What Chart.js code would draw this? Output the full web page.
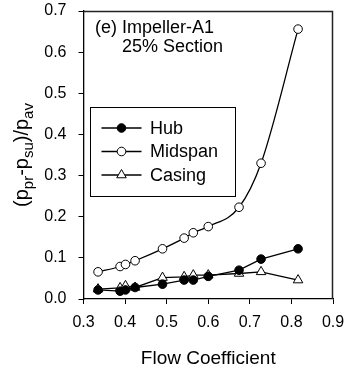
<!DOCTYPE html>
<html>
<head>
<meta charset="utf-8">
<script src="https://cdn.jsdelivr.net/npm/chart.js@4/dist/chart.umd.min.js"></script>
<style>
  body { margin: 0; background: #fff; }
</style>
</head>
<body>
<canvas id="myChart" width="345" height="370"></canvas>
<script>
// flow coefficient (x) - same points for all three curves
const flowCoef = [0.335, 0.388, 0.401, 0.424, 0.49, 0.542, 0.564, 0.60, 0.674, 0.727, 0.816];
const hub     = [0.022, 0.019, 0.022, 0.028, 0.036, 0.046, 0.046, 0.055, 0.070, 0.097, 0.122];
const midspan = [0.066, 0.079, 0.084, 0.093, 0.122, 0.148, 0.161, 0.176, 0.223, 0.330, 0.656];
const casing  = [0.024, 0.027, 0.032, 0.028, 0.052, 0.054, 0.058, 0.058, 0.062, 0.066, 0.046];
const seriesNames = ["Hub", "Midspan", "Casing"];
const xTicks = [0.3, 0.4, 0.5, 0.6, 0.7, 0.8, 0.9];
const yTicks = [0.0, 0.1, 0.2, 0.3, 0.4, 0.5, 0.6, 0.7];
const noteLines = ["(e) Impeller-A1", "25% Section"];

const FONT = "'Liberation Sans', Arial, Helvetica, sans-serif";

function pts(ys) {
  return flowCoef.map(function(x, i) { return { x: x, y: ys[i] }; });
}

// draw a marker like the ones in the chart
function drawMarker(ctx, ds, x, y) {
  ctx.save();
  ctx.lineWidth = ds.pointBorderWidth;
  ctx.strokeStyle = ds.pointBorderColor;
  ctx.fillStyle = ds.pointBackgroundColor;
  ctx.beginPath();
  if (ds.pointStyle === "triangle") {
    var r = ds.pointRadius;
    ctx.moveTo(x, y - r);
    ctx.lineTo(x + r * 0.866, y + r * 0.5);
    ctx.lineTo(x - r * 0.866, y + r * 0.5);
    ctx.closePath();
  } else {
    ctx.arc(x, y, ds.pointRadius, 0, Math.PI * 2);
  }
  ctx.fill();
  ctx.stroke();
  ctx.restore();
}

const extras = {
  id: "extras",
  afterDraw: function(chart) {
    const c = chart.ctx;
    const a = chart.chartArea;

    c.save();
    // top and right edges of the frame
    c.strokeStyle = "#222";
    c.lineWidth = 1.5;
    c.beginPath();
    c.moveTo(a.left, a.top + 0.5);
    c.lineTo(a.right - 0.5, a.top + 0.5);
    c.lineTo(a.right - 0.5, a.bottom);
    c.stroke();

    // note text
    c.fillStyle = "#000";
    c.font = "18px " + FONT;
    c.textBaseline = "middle";
    c.textAlign = "left";
    c.fillText(noteLines[0], 95, 28);
    c.fillText(noteLines[1], 122, 47);

    // legend box
    c.fillStyle = "#fff";
    c.fillRect(90.5, 107.5, 145, 89);
    c.strokeStyle = "#000";
    c.lineWidth = 1;
    c.strokeRect(90.5, 107.5, 145, 89);
    const rows = [128, 151.5, 175];
    chart.data.datasets.forEach(function(ds, i) {
      const y = rows[i];
      c.beginPath();
      c.lineWidth = ds.borderWidth;
      c.strokeStyle = ds.borderColor;
      c.moveTo(101.5, y);
      c.lineTo(141.5, y);
      c.stroke();
      drawMarker(c, ds, 121.5, y);
      c.fillStyle = "#000";
      c.font = "18px " + FONT;
      c.fillText(ds.label, 150, y + 1);
    });

    // y axis title with subscripts
    c.translate(28, 155);
    c.rotate(-Math.PI / 2);
    const parts = [["(p", 0], ["pr", 1], ["-p", 0], ["su", 1], [")/p", 0], ["av", 1]];
    const big = "20px " + FONT, small = "15px " + FONT;
    let total = 0;
    parts.forEach(function(p) {
      c.font = p[1] ? small : big;
      total += c.measureText(p[0]).width;
    });
    let x = -total / 2;
    c.textBaseline = "alphabetic";
    c.fillStyle = "#000";
    parts.forEach(function(p) {
      c.font = p[1] ? small : big;
      c.fillText(p[0], x, p[1] ? 5 : 0);
      x += c.measureText(p[0]).width;
    });
    c.restore();
  }
};

const ctx = document.getElementById("myChart");

new Chart(ctx, {
  type: "line",
  data: {
    datasets: [
      {
        label: seriesNames[0],
        data: pts(hub),
        borderColor: "#000",
        borderWidth: 1.3,
        pointStyle: "circle",
        pointRadius: 4.3,
        pointBorderWidth: 1,
        pointBorderColor: "#000",
        pointBackgroundColor: "#000",
        tension: 0
      },
      {
        label: seriesNames[1],
        data: pts(midspan),
        borderColor: "#000",
        borderWidth: 1.3,
        pointStyle: "circle",
        pointRadius: 4.3,
        pointBorderWidth: 1,
        pointBorderColor: "#000",
        pointBackgroundColor: "#fff",
        cubicInterpolationMode: "monotone"
      },
      {
        label: seriesNames[2],
        data: pts(casing),
        borderColor: "#000",
        borderWidth: 1.3,
        pointStyle: "triangle",
        pointRadius: 5.5,
        pointBorderWidth: 1,
        pointBorderColor: "#000",
        pointBackgroundColor: "#fff",
        tension: 0
      }
    ]
  },
  options: {
    responsive: false,
    animation: false,
    events: [],
    layout: { padding: { top: 11, right: 12, left: 0, bottom: 0 } },
    plugins: {
      legend: { display: false },
      tooltip: { enabled: false }
    },
    scales: {
      x: {
        type: "linear",
        min: 0.3,
        max: 0.9,
        afterBuildTicks: function(s) { s.ticks = xTicks.map(function(v) { return { value: v }; }); },
        afterFit: function(s) { s.height = 71; s.paddingLeft = 0; s.paddingRight = 0; },
        ticks: {
          color: "#000",
          font: { family: FONT, size: 16 },
          padding: 9,
          maxRotation: 0,
          callback: function(v) { return Number(v).toFixed(1); }
        },
        grid: { drawOnChartArea: false, tickLength: 5, color: "#000" },
        border: { color: "#000", width: 1.3 },
        title: {
          display: true,
          text: "Flow Coefficient",
          color: "#000",
          font: { family: FONT, size: 19 },
          padding: { top: 4, bottom: 0 }
        }
      },
      y: {
        type: "linear",
        min: 0,
        max: 0.7,
        afterBuildTicks: function(s) { s.ticks = yTicks.map(function(v) { return { value: v }; }); },
        afterFit: function(s) { s.width = 83.5; s.paddingTop = 0; s.paddingBottom = 0; },
        ticks: {
          color: "#000",
          font: { family: FONT, size: 16 },
          padding: 12,
          callback: function(v) { return Number(v).toFixed(1); }
        },
        grid: { drawOnChartArea: false, tickLength: 5, color: "#000" },
        border: { color: "#000", width: 1.3 }
      }
    }
  },
  plugins: [extras]
});
</script>
</body>
</html>
